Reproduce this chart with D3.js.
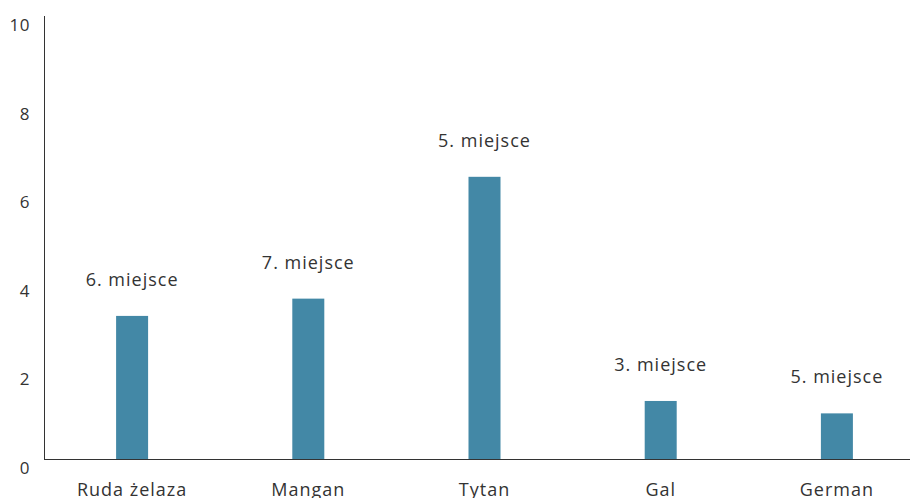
<!DOCTYPE html>
<html>
<head>
<meta charset="utf-8">
<script src="https://cdn.jsdelivr.net/npm/d3@7/dist/d3.min.js"></script>
<style>
  html, body { margin: 0; padding: 0; background: #fff; }
  svg { display: block; font-family: "Open Sans", "Inter", sans-serif; }
</style>
</head>
<body>
<svg id="chart" width="910" height="498"></svg>
<script>
// Surowce: wartości i miejsce w rankingu
const categories = ["Ruda żelaza", "Mangan", "Tytan", "Gal", "German"];
const values = [3.23, 3.62, 6.37, 1.31, 1.03];
const rankLabels = ["6. miejsce", "7. miejsce", "5. miejsce", "3. miejsce", "5. miejsce"];
const yTicks = [0, 2, 4, 6, 8, 10];

const svg = d3.select("#chart");
const plotLeft = 44, plotTop = 16, baseline = 459;
const barWidth = 32;
const textColor = "#333";

const x = d3.scaleBand().domain(categories).range([plotLeft, plotLeft + 881]).padding(0);
const y = d3.scaleLinear().domain([0, 10]).range([baseline, plotTop]);

// Oś Y
svg.append("line")
  .attr("x1", plotLeft + 0.5).attr("x2", plotLeft + 0.5)
  .attr("y1", plotTop).attr("y2", baseline)
  .attr("stroke", "#333").attr("stroke-width", 1);

svg.append("g").selectAll("text")
  .data(yTicks).join("text")
  .attr("x", 30)
  .attr("y", d => y(d) + 15)
  .attr("text-anchor", "end")
  .attr("font-size", 17)
  .attr("letter-spacing", "0.5px")
  .attr("fill", textColor)
  .text(d => d);

// Słupki
svg.append("g").selectAll("rect")
  .data(values).join("rect")
  .attr("x", (d, i) => x(categories[i]) + x.bandwidth() / 2 - barWidth / 2)
  .attr("y", d => y(d))
  .attr("width", barWidth)
  .attr("height", d => baseline - y(d))
  .attr("fill", "#4388a6");

// Oś X
svg.append("line")
  .attr("x1", plotLeft).attr("x2", 910)
  .attr("y1", baseline + 0.5).attr("y2", baseline + 0.5)
  .attr("stroke", "#333").attr("stroke-width", 1);

// Etykiety miejsc nad słupkami
svg.append("g").selectAll("text")
  .data(values).join("text")
  .attr("x", (d, i) => x(categories[i]) + x.bandwidth() / 2)
  .attr("y", d => y(d) - 30)
  .attr("text-anchor", "middle")
  .attr("font-size", 18)
  .attr("letter-spacing", "1px")
  .attr("fill", textColor)
  .text((d, i) => rankLabels[i]);

// Etykiety kategorii
svg.append("g").selectAll("text")
  .data(categories).join("text")
  .attr("x", d => x(d) + x.bandwidth() / 2)
  .attr("y", 496)
  .attr("text-anchor", "middle")
  .attr("font-size", 18)
  .attr("letter-spacing", "1px")
  .attr("fill", textColor)
  .text(d => d);
</script>
</body>
</html>
